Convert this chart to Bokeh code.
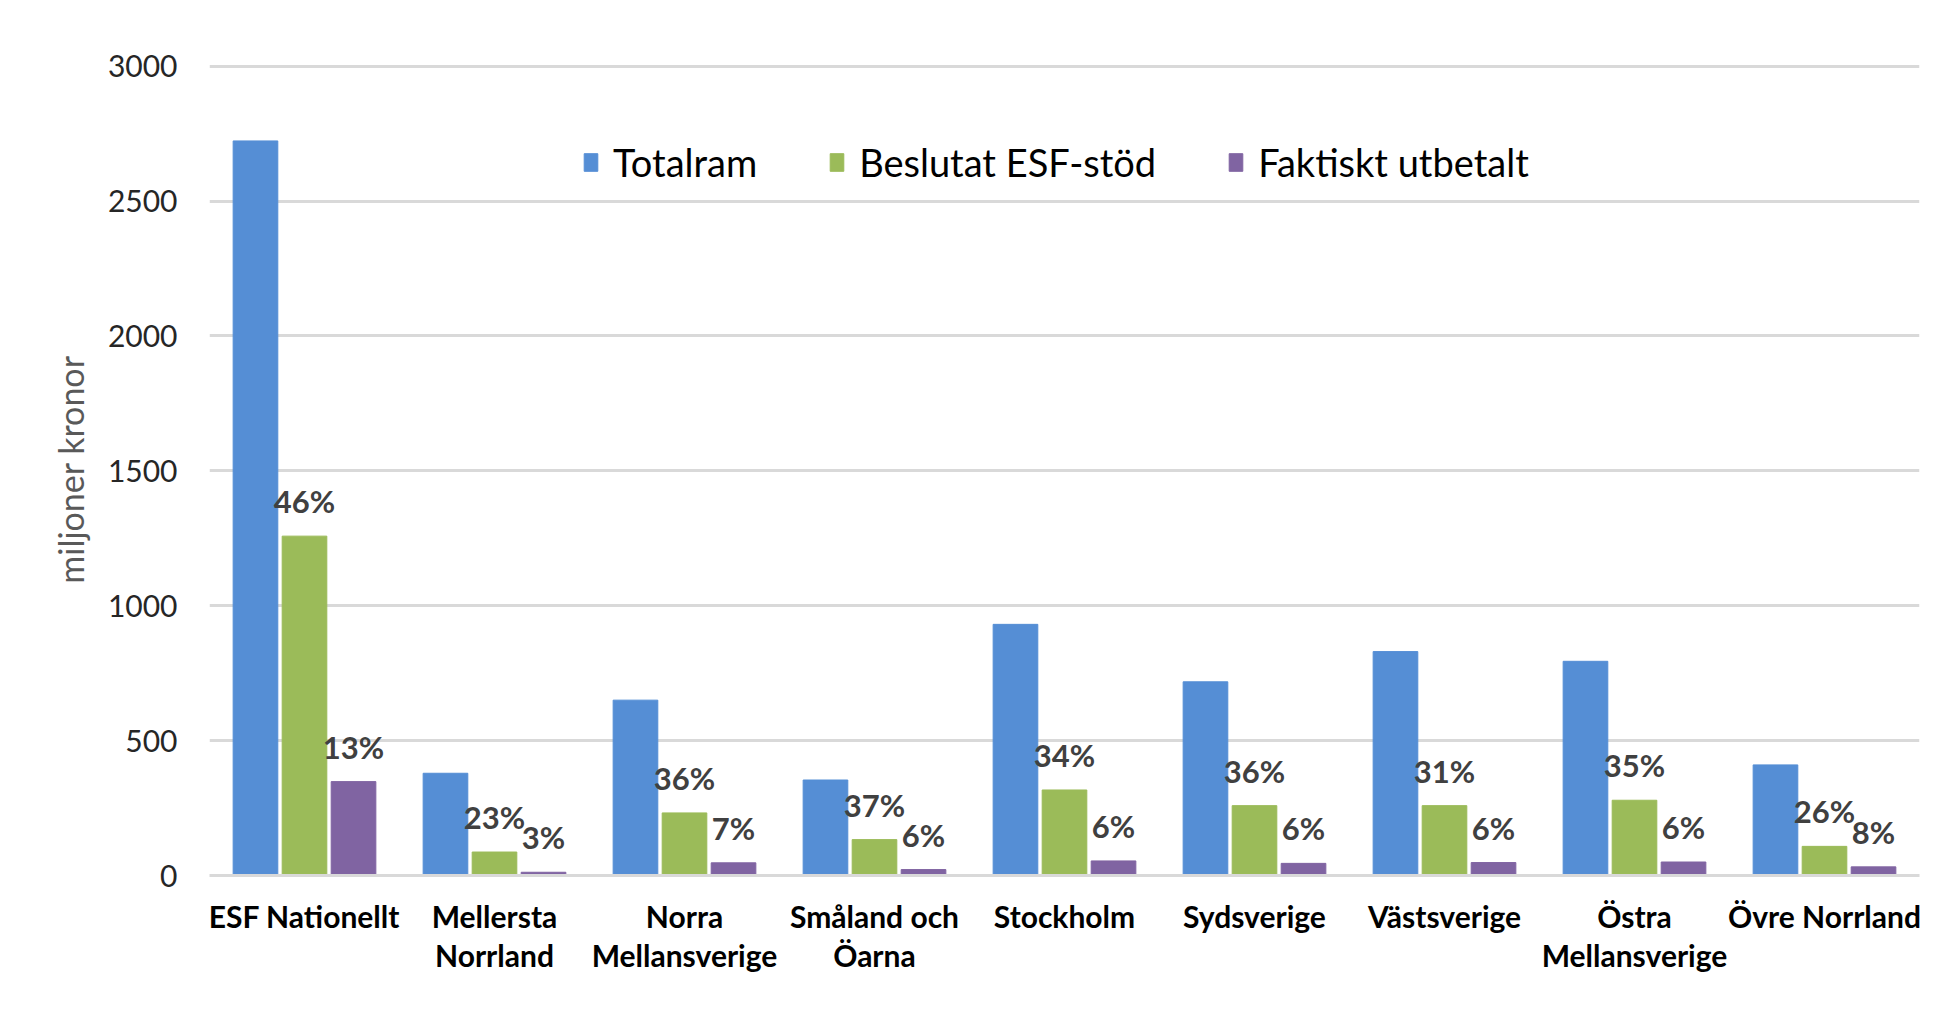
from bokeh.plotting import figure
from bokeh.models import ColumnDataSource, FactorRange, Range1d, Legend, LegendItem, FixedTicker
from bokeh.transform import dodge
from bokeh.core.properties import value
from bokeh.embed import file_html
from bokeh.resources import INLINE

categories = ["ESF Nationellt", "Mellersta\nNorrland", "Norra\nMellansverige", "Småland och\nÖarna",
              "Stockholm", "Sydsverige", "Västsverige", "Östra\nMellansverige", "Övre Norrland"]
totalram = [2723, 379, 650, 354, 931, 718, 830, 794, 410]
beslutat = [1258, 87, 232, 133, 317, 259, 259, 279, 108]
utbetalt = [348, 12, 47, 22, 54, 45, 48, 50, 32]
beslutat_pct = ["46%", "23%", "36%", "37%", "34%", "36%", "31%", "35%", "26%"]
utbetalt_pct = ["13%", "3%", "7%", "6%", "6%", "6%", "6%", "6%", "8%"]
y_ticks = [0, 500, 1000, 1500, 2000, 2500, 3000]

series_names = ["Totalram", "Beslutat ESF-stöd", "Faktiskt utbetalt"]
colors = ["#558ED5", "#9BBB59", "#8064A2"]

src = ColumnDataSource(dict(cat=categories, tot=totalram, bes=beslutat, utb=utbetalt,
                            bpct=beslutat_pct, upct=utbetalt_pct))

FONT = "Lato"

p = figure(x_range=FactorRange(*categories, range_padding=0), y_range=Range1d(0, 3010),
           width=1946, height=1001, output_backend="svg", toolbar_location=None,
           min_border_left=209, min_border_right=27, min_border_top=63, min_border_bottom=126)
p.outline_line_color = None
p.background_fill_color = "white"
p.border_fill_color = "white"

step = 0.258
bw = 0.235
r1 = p.vbar(x=dodge("cat", -step, range=p.x_range), top="tot", width=bw, source=src, color=colors[0])
r2 = p.vbar(x=dodge("cat", 0, range=p.x_range), top="bes", width=bw, source=src, color=colors[1])
r3 = p.vbar(x=dodge("cat", step, range=p.x_range), top="utb", width=bw, source=src, color=colors[2])

for col, off, txt in (("bes", 0, "bpct"), ("utb", step, "upct")):
    p.text(x=dodge("cat", off, range=p.x_range), y=col, text=txt, source=src,
           text_align="center", text_baseline="bottom", y_offset=-16,
           text_font=value(FONT), text_font_style="bold", text_font_size="31px",
           text_color="#404040")

# grid
p.xgrid.grid_line_color = None
p.ygrid.ticker = FixedTicker(ticks=y_ticks)
p.ygrid.grid_line_color = "#D9D9D9"
p.ygrid.grid_line_width = 3

# y axis
p.yaxis.ticker = FixedTicker(ticks=y_ticks)
p.yaxis.axis_line_color = None
p.yaxis.major_tick_line_color = None
p.yaxis.minor_tick_line_color = None
p.yaxis.major_tick_out = 0
p.yaxis.major_label_standoff = 32
p.yaxis.major_label_text_font = FONT
p.yaxis.major_label_text_font_size = "30px"
p.yaxis.major_label_text_color = "#262626"
p.yaxis.axis_label = "miljoner kronor"
p.yaxis.axis_label_text_font = FONT
p.yaxis.axis_label_text_font_size = "34px"
p.yaxis.axis_label_text_font_style = "normal"
p.yaxis.axis_label_text_color = "#595959"
p.yaxis.axis_label_standoff = 14

# x axis
p.xaxis.axis_line_color = "#D9D9D9"
p.xaxis.axis_line_width = 3
p.xaxis.major_tick_line_color = None
p.xaxis.major_tick_out = 0
p.xaxis.major_label_standoff = 22
p.xaxis.major_label_text_font = FONT
p.xaxis.major_label_text_font_style = "bold"
p.xaxis.major_label_text_font_size = "30px"
p.xaxis.major_label_text_line_height = 1.1
p.xaxis.major_label_text_color = "#000000"

legend = Legend(items=[LegendItem(label=series_names[0], renderers=[r1]),
                       LegendItem(label=series_names[1], renderers=[r2]),
                       LegendItem(label=series_names[2], renderers=[r3])],
                orientation="horizontal", location=(373, 690))
legend.margin = 0
legend.padding = 0
legend.spacing = 71
legend.label_standoff = 14
legend.glyph_width = 17
legend.glyph_height = 22
legend.label_text_font = FONT
legend.label_text_font_size = "38px"
legend.label_text_color = "#000000"
legend.border_line_color = None
legend.background_fill_alpha = 0
p.add_layout(legend, "center")

open("out.html", "w").write(file_html(p, INLINE))
